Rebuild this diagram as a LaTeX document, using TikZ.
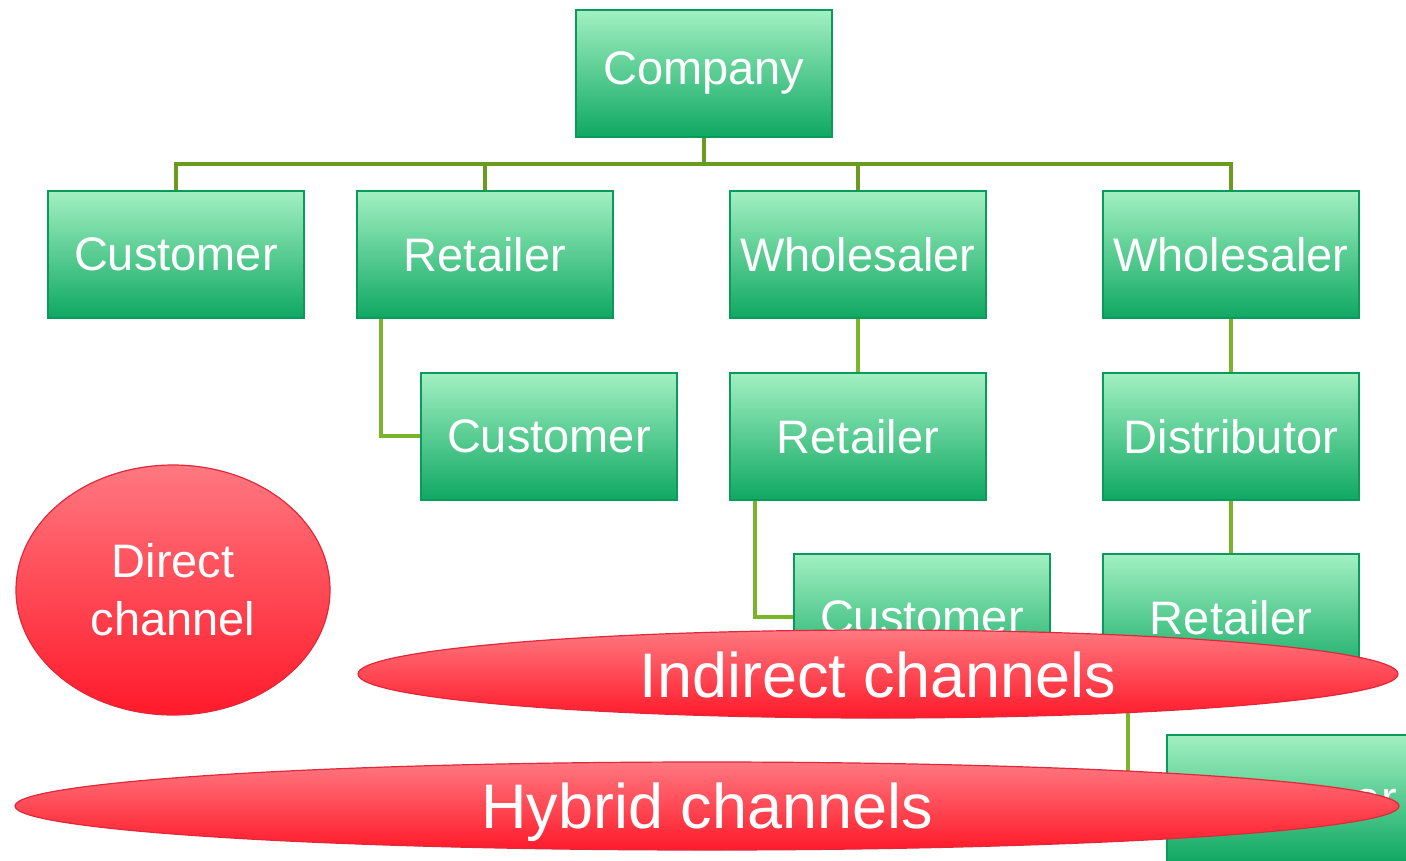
\documentclass[tikz,border=0pt]{standalone}
\usepackage{fontspec}
\setmainfont{Liberation Sans}
\usetikzlibrary{shapes.geometric}
\definecolor{gtop}{HTML}{A2F0C2}
\definecolor{gbot}{HTML}{0FA862}
\definecolor{gline}{HTML}{0A9A5C}
\definecolor{rtop}{HTML}{FF7880}
\definecolor{rbot}{HTML}{FF1A2A}
\definecolor{rline}{HTML}{E0283A}
\definecolor{conA}{HTML}{6A9A1E}
\definecolor{conB}{HTML}{7AB42A}
\tikzset{
  gbox/.style={rectangle, draw=gline, line width=1.8pt, top color=gtop, bottom color=gbot,
    minimum width=256pt, minimum height=127pt, inner sep=0pt, anchor=north west,
    text=white, font=\fontsize{47}{52}\selectfont},
  redell/.style={ellipse, draw=rline, line width=1.2pt, top color=rtop, bottom color=rbot,
    inner sep=0pt, text=white, align=center},
  bigtext/.style={text=white, font=\fontsize{63}{70}\selectfont, inner sep=0pt},
  conn/.style={line width=4pt, color=conA},
  conn2/.style={line width=4pt, color=conB}
}
\begin{document}
\begin{tikzpicture}[x=1pt,y=-1pt]
\useasboundingbox (0,0) rectangle (1406,860);
\clip (0,0) rectangle (1406,860);
% boxes
\node[gbox] (company) at (575,9) {Company};
\node[gbox] (cust1) at (47,190) {Customer};
\node[gbox] (ret1) at (356,190) {Retailer};
\node[gbox] (whole1) at (729,190) {Wholesaler};
\node[gbox] (whole2) at (1102,190) {Wholesaler};
\node[gbox] (cust2) at (420,372) {Customer};
\node[gbox] (ret2) at (729,372) {Retailer};
\node[gbox] (dist) at (1102,372) {Distributor};
\node[gbox] (cust3) at (793,553) {Customer};
\node[gbox] (ret3) at (1102,553) {Retailer};
\node[gbox] (cust4) at (1166,734) {Customer};
% connectors
\draw[conn] (company.south) -- ++(0,26) -| (cust1.north);
\draw[conn] (company.south) -- ++(0,26) -| (ret1.north);
\draw[conn] (company.south) -- ++(0,26) -| (whole1.north);
\draw[conn] (company.south) -- ++(0,26) -| (whole2.north);
\draw[conn2] ([xshift=25pt]ret1.south west) |- (cust2.west);
\draw[conn2] (whole1.south) -- (ret2.north);
\draw[conn2] ([xshift=26pt]ret2.south west) |- (cust3.west);
\draw[conn2] (whole2.south) -- (dist.north);
\draw[conn2] (dist.south) -- (ret3.north);
\draw[conn2] ([xshift=26pt]ret3.south west) |- (cust4.west);
% ellipses
\node[redell, minimum width=314pt, minimum height=250pt, font=\fontsize{47}{58}\selectfont] (direct) at (173,590) {Direct\\channel};
\node[redell, minimum width=1040pt, minimum height=88pt,
  label={[bigtext, yshift=-1pt]center:Indirect channels}] (indirect) at (878,674) {};
\node[redell, minimum width=1384pt, minimum height=88pt,
  label={[bigtext, yshift=-6pt]center:Hybrid channels}] (hybrid) at (707,806) {};
\end{tikzpicture}
\end{document}
